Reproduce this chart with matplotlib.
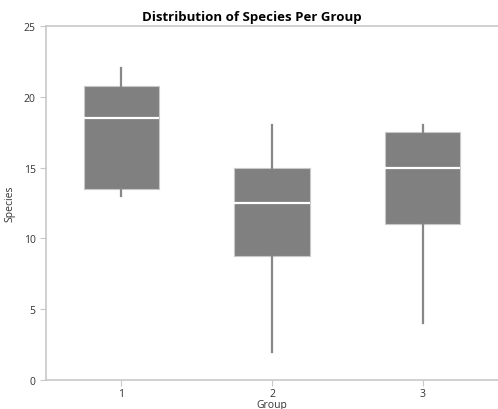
import matplotlib
matplotlib.use("Agg")
import matplotlib.pyplot as plt

plt.rcParams['font.family'] = ['Open Sans', 'DejaVu Sans']

# Data
groups = ["1", "2", "3"]
whisker_low = [13.0, 2.0, 4.0]
q1 = [13.5, 8.75, 11.0]
median = [18.5, 12.5, 15.0]
q3 = [20.75, 15.0, 17.5]
whisker_high = [22.0, 18.0, 18.0]

stats = []
for i, g in enumerate(groups):
    stats.append({
        "label": g,
        "whislo": whisker_low[i],
        "q1": q1[i],
        "med": median[i],
        "q3": q3[i],
        "whishi": whisker_high[i],
        "fliers": [],
    })

fig = plt.figure(figsize=(4.98, 4.10), dpi=100)
ax = fig.add_axes([46 / 498, 1 - 381 / 410, 452 / 498, 354 / 410])

ax.bxp(stats, positions=[1, 2, 3], widths=0.5, showcaps=False, patch_artist=True,
       boxprops=dict(facecolor="#808080", edgecolor="#c8c8c8", linewidth=0.8),
       medianprops=dict(color="white", linewidth=1.6),
       whiskerprops=dict(color="#888888", linewidth=1.6))

ax.set_xlim(0.5, 3.5)
ax.set_ylim(0, 25)
ax.set_yticks([0, 5, 10, 15, 20, 25])

for side in ["left", "bottom", "top"]:
    ax.spines[side].set_color("#c8c8c8")
    ax.spines[side].set_linewidth(1.2)
ax.spines["right"].set_visible(False)
ax.tick_params(colors="#c8c8c8", labelcolor="#333333", labelsize=7.5, length=4)
ax.tick_params(axis="x", pad=2)

ax.set_xlabel("Group", fontsize=7.5, color="#333333", labelpad=0)
ax.set_ylabel("Species", fontsize=7.5, color="#333333", labelpad=6)
fig.text(0.505, 1 - 17 / 410, "Distribution of Species Per Group", fontsize=9.5,
         fontweight="bold", ha="center", va="center")

plt.savefig("out.png", dpi=100)
plt.close()
